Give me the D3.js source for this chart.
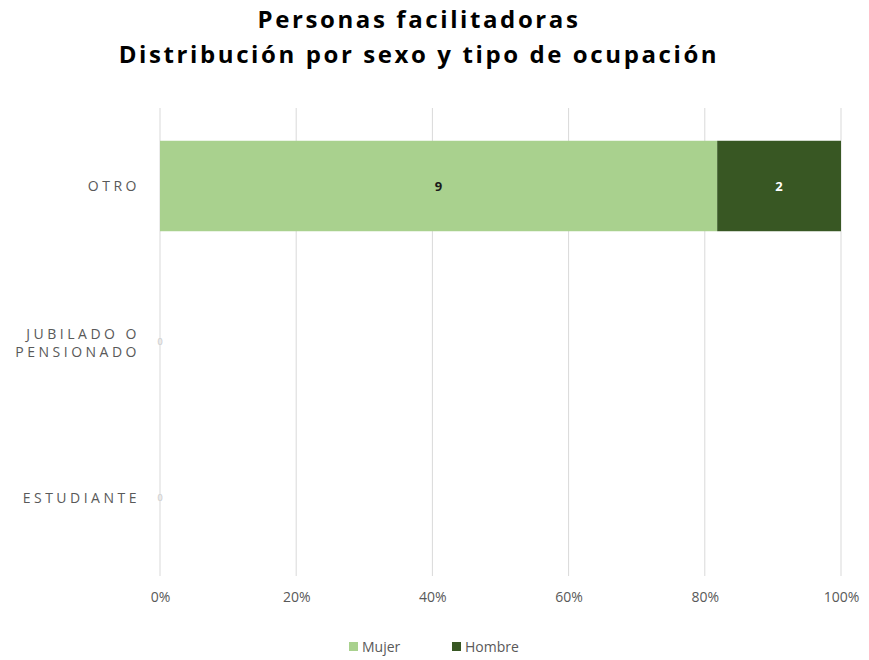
<!DOCTYPE html>
<html>
<head>
<meta charset="utf-8">
<script src="https://cdn.jsdelivr.net/npm/d3@7"></script>
<style>
  body { margin: 0; background: #fff; }
  svg text { font-family: "Open Sans", "Liberation Sans", sans-serif; }
</style>
</head>
<body>
<svg id="chart"></svg>
<script>
// Data
const categories = ["OTRO", "JUBILADO O PENSIONADO", "ESTUDIANTE"];
const categoryLines = [["OTRO"], ["JUBILADO O", "PENSIONADO"], ["ESTUDIANTE"]];
const series = ["Mujer", "Hombre"];
const mujer = [9, 0, 0];
const hombre = [2, 0, 0];
const ticks = [0, 0.2, 0.4, 0.6, 0.8, 1];
const colors = ["#a9d18e", "#385723"];

const W = 869, H = 660;
const margin = {top: 108, right: 28, bottom: 84, left: 160};

const svg = d3.select("#chart")
  .attr("width", W)
  .attr("height", H);

const g = svg.append("g")
  .attr("transform", `translate(${margin.left}, ${margin.top})`);

const width = W - margin.left - margin.right;
const height = H - margin.top - margin.bottom;

// rows: share of each sex per category
const rows = categories.map((c, i) => {
  const total = mujer[i] + hombre[i];
  return {
    cat: c,
    Mujer: total ? mujer[i] / total : 0,
    Hombre: total ? hombre[i] / total : 0,
    raw: {Mujer: mujer[i], Hombre: hombre[i]}
  };
});

const x = d3.scaleLinear().domain([0, 1]).range([0, width]);
const y = d3.scaleBand().domain(categories).range([0, height]).paddingInner(0.42).paddingOuter(0.21);
const z = d3.scaleOrdinal().domain(series).range(colors);

// gridlines
g.selectAll("line.grid")
  .data(ticks)
  .enter().append("line")
  .attr("x1", d => x(d)).attr("x2", d => x(d))
  .attr("y1", 0).attr("y2", height)
  .attr("stroke", "#d9d9d9")
  .attr("stroke-width", 1);

// x axis labels
const xAxis = d3.axisBottom(x).tickValues(ticks).tickFormat(d3.format(".0%")).tickSize(0).tickPadding(16);
const ax = g.append("g").attr("transform", `translate(0, ${height})`).call(xAxis);
ax.select(".domain").remove();
ax.selectAll("text").attr("fill", "#595959").style("font-size", "14px");

// stacked bars
const layers = d3.stack().keys(series)(rows);
const layer = g.selectAll("g.layer")
  .data(layers)
  .enter().append("g")
  .attr("fill", d => z(d.key));

layer.selectAll("rect")
  .data(d => d.map(v => Object.assign(v, {key: d.key})))
  .enter().append("rect")
  .attr("x", d => x(d[0]))
  .attr("y", d => y(d.data.cat))
  .attr("width", d => x(d[1]) - x(d[0]))
  .attr("height", y.bandwidth());

// data labels
layer.selectAll("text")
  .data(d => d)
  .enter().append("text")
  .attr("x", d => d.data.raw[d.key] ? (x(d[0]) + x(d[1])) / 2 : x(d[0]))
  .attr("y", d => y(d.data.cat) + y.bandwidth() / 2)
  .attr("dy", "0.35em")
  .attr("text-anchor", "middle")
  .style("font-size", d => d.data.raw[d.key] ? "13px" : "9px")
  .style("font-weight", d => d.data.raw[d.key] ? "bold" : "normal")
  .attr("fill", d => !d.data.raw[d.key] ? "#d4d4d4" : (d.key === "Mujer" ? "#1a1a1a" : "#ffffff"))
  .text(d => d.data.raw[d.key]);

// category labels
const catG = g.selectAll("text.cat")
  .data(categories)
  .enter().append("text")
  .attr("class", "cat")
  .attr("x", -22)
  .attr("y", d => y(d) + y.bandwidth() / 2)
  .attr("text-anchor", "end")
  .attr("fill", "#595959")
  .style("font-size", "14px")
  .style("letter-spacing", "3.5px");

catG.each(function(d, i) {
  const lines = categoryLines[i];
  const t = d3.select(this);
  lines.forEach((l, j) => {
    t.append("tspan")
      .attr("x", -20)
      .attr("dy", j === 0 ? `${0.35 - (lines.length - 1) * 0.6}em` : "1.3em")
      .text(l);
  });
});

// title
const title = svg.append("text")
  .attr("text-anchor", "middle")
  .attr("fill", "#000")
  .style("font-size", "24px")
  .style("font-weight", "bold")
  .style("letter-spacing", "2.6px");
title.append("tspan").attr("x", 419).attr("y", 28).text("Personas facilitadoras");
title.append("tspan").attr("x", 419).attr("y", 63).text("Distribución por sexo y tipo de ocupación");

// legend
const legend = svg.append("g").attr("transform", "translate(349, 647)");
const legendX = [0, 103];
series.forEach((s, i) => {
  legend.append("rect")
    .attr("x", legendX[i]).attr("y", -5)
    .attr("width", 9).attr("height", 9)
    .attr("fill", z(s));
  legend.append("text")
    .attr("x", legendX[i] + 13).attr("y", 0)
    .attr("dy", "0.35em")
    .attr("fill", "#595959")
    .style("font-size", "14px")
    .text(s);
});
</script>
</body>
</html>
